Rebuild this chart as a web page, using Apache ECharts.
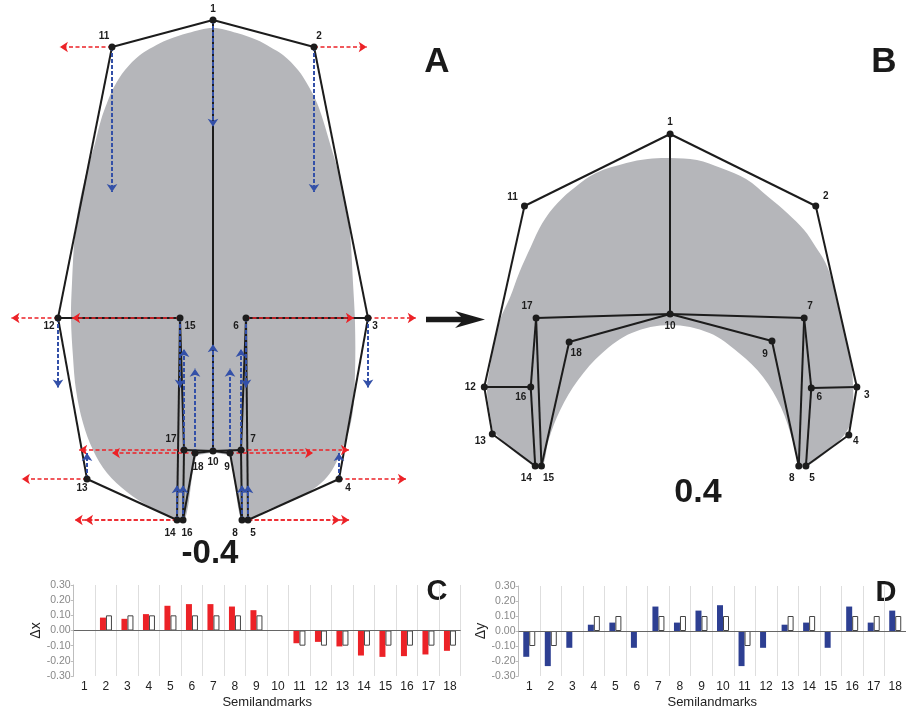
<!DOCTYPE html>
<html>
<head>
<meta charset="utf-8">
<script src="https://cdn.jsdelivr.net/npm/echarts@6/dist/echarts.min.js"></script>
<style>
  html, body { margin: 0; padding: 0; background: #fff; }
  #chart { width: 906px; height: 712px; }
</style>
</head>
<body>
<div id="chart"></div>
<script>
// ---- Semilandmark displacements (bar panels C and D) ----
const semilandmarks = ['1','2','3','4','5','6','7','8','9','10','11','12','13','14','15','16','17','18'];
const deltaX = [0, 0.085, 0.077, 0.108, 0.163, 0.174, 0.174, 0.158, 0.134, 0, -0.084, -0.075, -0.105, -0.165, -0.174, -0.169, -0.158, -0.134];
const refX   = [null, 0.1, 0.1, 0.1, 0.1, 0.1, 0.1, 0.1, 0.1, null, -0.1, -0.1, -0.1, -0.1, -0.1, -0.1, -0.1, -0.1];
const deltaY = [-0.172, -0.234, -0.112, 0.042, 0.056, -0.112, 0.163, 0.056, 0.136, 0.172, -0.234, -0.112, 0.042, 0.056, -0.112, 0.163, 0.056, 0.136];
const refY   = [-0.1, -0.1, null, 0.1, 0.1, null, 0.1, 0.1, 0.1, 0.1, -0.1, null, 0.1, 0.1, null, 0.1, 0.1, 0.1];
const deltaTicks = [-0.3, -0.2, -0.1, 0, 0.1, 0.2, 0.3];

// ---- Shape at score -0.4 (panel A), landmarks 1..18, origin at landmark 10 ----
const shapeNegX = [0, 101, 155, 126, 35, 33, 28, 29, 17, 0, -101, -155, -126, -36, -33, -29, -30, -18];
const shapeNegY = [431, 404, 133, -28, -69, 133, 1, -69, -2, 0, 404, 133, -28, -69, 133, 1, -69, -2];
const labelsNeg = ['1','2','3','4','5','6','7','8','9','10','11','12','13','14','15','17','16','18'];
const linksNeg = [[1,2],[2,3],[3,4],[4,5],[3,6],[6,5],[6,7],[7,8],[8,9],[9,10],[7,10],[1,10],
                  [1,11],[11,12],[12,13],[13,14],[12,15],[15,14],[15,16],[16,17],[17,18],[18,10],[16,10]];
const outlineNeg = [[0,423],[24,418],[44,411],[57,404],[70,396],[85,381],[96,364],[104,348],[110,331],[118,304],
  [124,284],[132,251],[137,218],[140,168],[142,128],[142,78],[139,34],[130,4],[114,-26],[87,-46],[54,-59],
  [35,-69],[28,-69],[17,-6],[9,-3],[0,-2],[-9,-3],[-17,-6],[-28,-69],[-36,-69],[-63,-56],[-86,-41],[-106,-22],
  [-120,1],[-130,28],[-137,61],[-140,94],[-142,133],[-141,168],[-138,218],[-133,251],[-125,284],[-119,304],
  [-112,331],[-106,348],[-99,364],[-88,381],[-73,396],[-60,404],[-46,411],[-25,418]];

// ---- Shape at score 0.4 (panel B) ----
const shapePosX = [0, 163, 209, 200, 152, 158, 150, 144, 114, 0, -163, -208, -199, -151, -144, -156, -150, -113];
const shapePosY = [180, 108, -73, -121, -152, -74, -4, -152, -27, 0, 108, -73, -120, -152, -152, -73, -4, -28];
const labelsPos = ['1','2','3','4','5','6','7','8','9','10','11','12','13','14','15','16','17','18'];
const linksPos = [[1,2],[2,3],[3,4],[4,5],[3,6],[6,5],[6,7],[7,8],[8,9],[9,10],[7,10],[1,10],
                  [1,11],[11,12],[12,13],[13,14],[12,16],[16,14],[16,17],[17,15],[15,18],[18,10],[17,10]];
const outlinePos = [[0,156],[30,154],[57,146],[85,135],[110,117],[131,101],[150,84],[163,67],[174,51],[182,31],
  [187,11],[193,-10],[197,-25],[202,-45],[204,-60],[205,-86],[202,-109],[190,-126],[154,-152],[145,-152],
  [137,-126],[124,-93],[104,-63],[77,-39],[44,-19],[0,-11],[-43,-19],[-76,-39],[-103,-66],[-123,-96],
  [-136,-126],[-143,-152],[-153,-152],[-196,-119],[-201,-103],[-205,-75],[-202,-55],[-197,-30],[-190,-5],
  [-179,17],[-169,41],[-156,67],[-143,91],[-126,111],[-106,127],[-83,141],[-49,151],[-25,155]];

// ---- styling ----
const FONT = '"Liberation Sans", Arial, Helvetica, sans-serif';
const RED = '#ec2227';
const BAR_BLUE = '#2d3f92';
const ARROW_BLUE = '#3350a8';
const GREY = '#b5b6ba';
const INK = '#1c1c1c';
const VECTOR_GAIN = 620; // magnification of displacement vectors in panel A

// label offsets (px) around each landmark dot
const labelOffNeg = [[0,-11],[5,-11],[7,8],[9,9],[5,13],[-10,8],[12,-11],[-7,13],[-3,14],[0,11],
                     [-8,-11],[-9,8],[-5,9],[-7,13],[10,8],[-13,-11],[4,13],[3,14]];
const labelOffPos = [[0,-12],[10,-10],[10,8],[7,6],[6,12],[8,9],[6,-12],[-7,12],[-7,13],[0,12],
                     [-12,-9],[-14,0],[-12,7],[-9,12],[7,12],[-10,10],[-9,-12],[7,11]];

const zip = (xs, ys) => xs.map((x, i) => [x, ys[i]]);
const ptsNeg = zip(shapeNegX, shapeNegY);
const ptsPos = zip(shapePosX, shapePosY);
const linkData = (p, links) => links.map(([a, b]) => ({ coords: [p[a - 1], p[b - 1]] }));

const vecX = [], vecY = [];
ptsNeg.forEach((p, i) => {
  if (deltaX[i]) vecX.push({ coords: [p, [p[0] + deltaX[i] * VECTOR_GAIN, p[1]]] });
  if (deltaY[i]) vecY.push({ coords: [p, [p[0], p[1] + deltaY[i] * VECTOR_GAIN]] });
});

function blobSeries(outline, gi) {
  return {
    type: 'custom', xAxisIndex: gi, yAxisIndex: gi, silent: true, clip: false, z: 1,
    data: [[0, 0]],
    renderItem: (params, api) => ({
      type: 'polygon',
      shape: { points: outline.map(p => api.coord(p)), smooth: 0.35 },
      style: { fill: GREY }
    })
  };
}
function frameSeries(pts, links, gi) {
  return {
    type: 'lines', coordinateSystem: 'cartesian2d', xAxisIndex: gi, yAxisIndex: gi,
    silent: true, z: 2, symbol: 'none',
    lineStyle: { color: INK, width: 2, opacity: 1, curveness: 0 },
    data: linkData(pts, links)
  };
}
function dotSeries(pts, labels, offs, gi) {
  return {
    type: 'scatter', xAxisIndex: gi, yAxisIndex: gi, silent: true, z: 5,
    symbolSize: 7, itemStyle: { color: INK, opacity: 1 },
    label: {
      show: true, position: 'inside', color: INK, fontFamily: FONT, fontWeight: 'bold', fontSize: 10,
      formatter: p => labels[p.dataIndex]
    },
    data: pts.map((p, i) => ({ value: p, label: { offset: offs[i] } }))
  };
}
function vecSeries(data, color, width, dash) {
  return {
    type: 'lines', coordinateSystem: 'cartesian2d', xAxisIndex: 0, yAxisIndex: 0,
    silent: true, z: 4, symbol: ['none', 'arrow'], symbolSize: 8,
    lineStyle: { color: color, width: width, type: dash, opacity: 1 },
    data: data
  };
}

const hiddenAxis = (min, max, gi) => ({ type: 'value', show: false, min, max, gridIndex: gi });

function barXAxis(gi) {
  return {
    type: 'category', gridIndex: gi, data: semilandmarks,
    name: 'Semilandmarks', nameLocation: 'middle', nameGap: 20,
    nameTextStyle: { fontFamily: FONT, fontSize: 13, color: '#222' },
    axisLine: { show: false }, axisTick: { show: false },
    axisLabel: { fontFamily: FONT, fontSize: 12, color: '#222', margin: 5 },
    splitLine: { show: true, showMinLine: false, lineStyle: { color: '#dedede', width: 1 } }
  };
}
function barYAxis(gi, name) {
  return {
    type: 'value', gridIndex: gi, min: deltaTicks[0], max: deltaTicks[deltaTicks.length - 1], interval: 0.1,
    name: name, nameLocation: 'middle', nameRotate: 90, nameGap: 30,
    nameTextStyle: { fontFamily: FONT, fontSize: 14, color: '#222' },
    axisLine: { show: true, lineStyle: { color: '#bdbdbd' } },
    axisTick: { show: true, length: 3, lineStyle: { color: '#bdbdbd' } },
    axisLabel: { fontFamily: FONT, fontSize: 10.5, color: '#888', margin: 3, formatter: v => v.toFixed(2) },
    splitLine: { show: false }
  };
}
function barSeries(values, color, gi, withZero) {
  const s = {
    type: 'bar', xAxisIndex: gi, yAxisIndex: gi, data: values, barWidth: 6, barGap: '0%',
    silent: true, itemStyle: { color: color }
  };
  if (withZero) {
    s.markLine = {
      silent: true, symbol: 'none', label: { show: false },
      lineStyle: { color: '#666', width: 1, type: 'solid' },
      data: [{ yAxis: 0 }]
    };
  }
  return s;
}
const refStyle = { color: '#fff', borderColor: '#444', borderWidth: 1 };

const chart = echarts.init(document.getElementById('chart'), null, { renderer: 'canvas' });
chart.setOption({
  animation: false,
  backgroundColor: '#fff',
  grid: [
    { left: 0, top: 0, width: 453, height: 580 },
    { left: 453, top: 90, width: 507, height: 490 },
    { left: 73.7, top: 585, width: 387, height: 91 },
    { left: 518.5, top: 586, width: 390.6, height: 90 }
  ],
  xAxis: [
    hiddenAxis(-213, 240, 0),
    hiddenAxis(-243, 264, 1),
    barXAxis(2),
    barXAxis(3)
  ],
  yAxis: [
    hiddenAxis(-129, 451, 0),
    hiddenAxis(-266, 224, 1),
    barYAxis(2, 'Δx'),
    barYAxis(3, 'Δy')
  ],
  series: [
    blobSeries(outlineNeg, 0),
    frameSeries(ptsNeg, linksNeg, 0),
    vecSeries(vecX, RED, 1.5, [4, 2.5]),
    vecSeries(vecY, ARROW_BLUE, 2, [4, 2]),
    dotSeries(ptsNeg, labelsNeg, labelOffNeg, 0),

    blobSeries(outlinePos, 1),
    frameSeries(ptsPos, linksPos, 1),
    dotSeries(ptsPos, labelsPos, labelOffPos, 1),

    barSeries(deltaX, RED, 2, true),
    Object.assign(barSeries(refX, '#fff', 2, false), { itemStyle: refStyle }),
    barSeries(deltaY, BAR_BLUE, 3, true),
    Object.assign(barSeries(refY, '#fff', 3, false), { itemStyle: refStyle })
  ],
  graphic: [
    { type: 'text', x: 437, y: 62, style: { text: 'A', font: 'bold 35px ' + FONT, fill: '#1a1a1a', align: 'center', verticalAlign: 'middle' } },
    { type: 'text', x: 884, y: 62, style: { text: 'B', font: 'bold 35px ' + FONT, fill: '#1a1a1a', align: 'center', verticalAlign: 'middle' } },
    { type: 'text', x: 437, y: 592, style: { text: 'C', font: 'bold 29px ' + FONT, fill: '#1a1a1a', align: 'center', verticalAlign: 'middle' } },
    { type: 'text', x: 886, y: 593, style: { text: 'D', font: 'bold 29px ' + FONT, fill: '#1a1a1a', align: 'center', verticalAlign: 'middle' } },
    { type: 'text', x: 210, y: 554, style: { text: '-0.4', font: 'bold 33px ' + FONT, fill: '#1a1a1a', align: 'center', verticalAlign: 'middle' } },
    { type: 'text', x: 698, y: 493, style: { text: '0.4', font: 'bold 34px ' + FONT, fill: '#1a1a1a', align: 'center', verticalAlign: 'middle' } },
    { type: 'polygon', shape: { points: [[426,316.7],[461,316.7],[455,311],[485,319.5],[455,328],[461,322.3],[426,322.3]] },
      style: { fill: '#1a1a1a' } }
  ]
});
</script>
</body>
</html>
